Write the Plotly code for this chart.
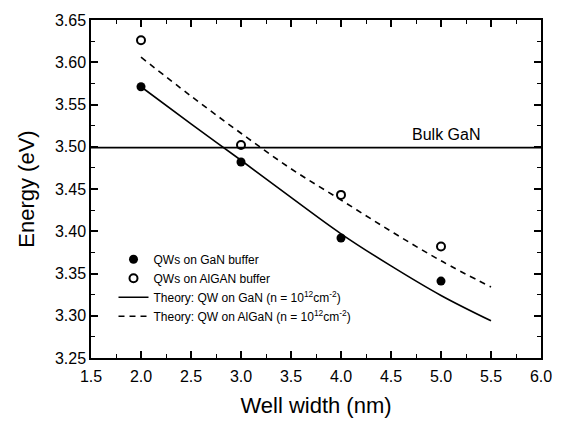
import plotly.graph_objects as go

# Data
well_width = [2.0, 3.0, 4.0, 5.0]
energy_gan_buffer = [3.571, 3.482, 3.392, 3.341]
energy_algan_buffer = [3.626, 3.502, 3.443, 3.382]

theory_width = [2.0, 2.5, 3.0, 3.5, 4.0, 4.5, 5.0, 5.5]
theory_gan = [3.571, 3.527, 3.484, 3.440, 3.397, 3.359, 3.324, 3.294]
theory_algan = [3.606, 3.560, 3.516, 3.474, 3.437, 3.400, 3.365, 3.334]

bulk_gan = 3.499
x_limits = [1.5, 6.0]
y_limits = [3.25, 3.65]

FONT = "Liberation Sans, Arial, sans-serif"

fig = go.Figure()

fig.add_trace(go.Scatter(
    x=x_limits, y=[bulk_gan, bulk_gan], mode="lines",
    line=dict(color="black", width=1.6), showlegend=False, hoverinfo="skip"))

fig.add_trace(go.Scatter(
    x=well_width, y=energy_gan_buffer, mode="markers",
    name="QWs on GaN buffer",
    marker=dict(symbol="circle", size=9, color="black")))
fig.add_trace(go.Scatter(
    x=well_width, y=energy_algan_buffer, mode="markers",
    name="QWs on AlGAN buffer",
    marker=dict(symbol="circle-open", size=8, color="black", line=dict(width=2, color="black"))))
fig.add_trace(go.Scatter(
    x=theory_width, y=theory_gan, mode="lines", line_shape="spline",
    name="Theory: QW on GaN (n = 10<sup>12</sup>cm<sup>-2</sup>)",
    line=dict(color="black", width=1.6)))
fig.add_trace(go.Scatter(
    x=theory_width, y=theory_algan, mode="lines", line_shape="spline",
    name="Theory: QW on AlGaN (n = 10<sup>12</sup>cm<sup>-2</sup>)",
    line=dict(color="black", width=1.6, dash="6px,5px")))

fig.add_annotation(x=5.05, y=bulk_gan, yshift=13, text="Bulk GaN", showarrow=False,
                   font=dict(family=FONT, size=16, color="black"))

axis_common = dict(
    showgrid=False, zeroline=False, showline=True, linecolor="black", linewidth=1.5,
    mirror="ticks", ticks="inside", ticklen=7, tickwidth=1.5, tickcolor="black",
    tickfont=dict(family=FONT, size=16, color="black"),
)

fig.update_xaxes(
    range=x_limits, dtick=0.5, tick0=1.5, tickformat=".1f", ticklabelstandoff=3,
    title=dict(text="Well width (nm)", font=dict(family=FONT, size=22, color="black"), standoff=14),
    minor=dict(dtick=0.25, ticks="inside", ticklen=4, tickwidth=1.2, tickcolor="black"),
    **axis_common)
fig.update_yaxes(
    range=y_limits, dtick=0.05, tick0=3.25, tickformat=".2f",
    title=dict(text="Energy (eV)", font=dict(family=FONT, size=22, color="black"), standoff=14),
    minor=dict(dtick=0.025, ticks="inside", ticklen=4, tickwidth=1.2, tickcolor="black"),
    **axis_common)

fig.update_layout(
    width=564, height=426, autosize=False,
    margin=dict(l=91, r=21, t=15, b=65),
    paper_bgcolor="white", plot_bgcolor="white",
    font=dict(family=FONT, color="black"),
    legend=dict(x=0.05, y=0.335, xanchor="left", yanchor="top",
                bgcolor="rgba(0,0,0,0)", font=dict(family=FONT, size=12, color="black"),
                tracegroupgap=0, itemwidth=30),
)

fig.write_html("out.html")
